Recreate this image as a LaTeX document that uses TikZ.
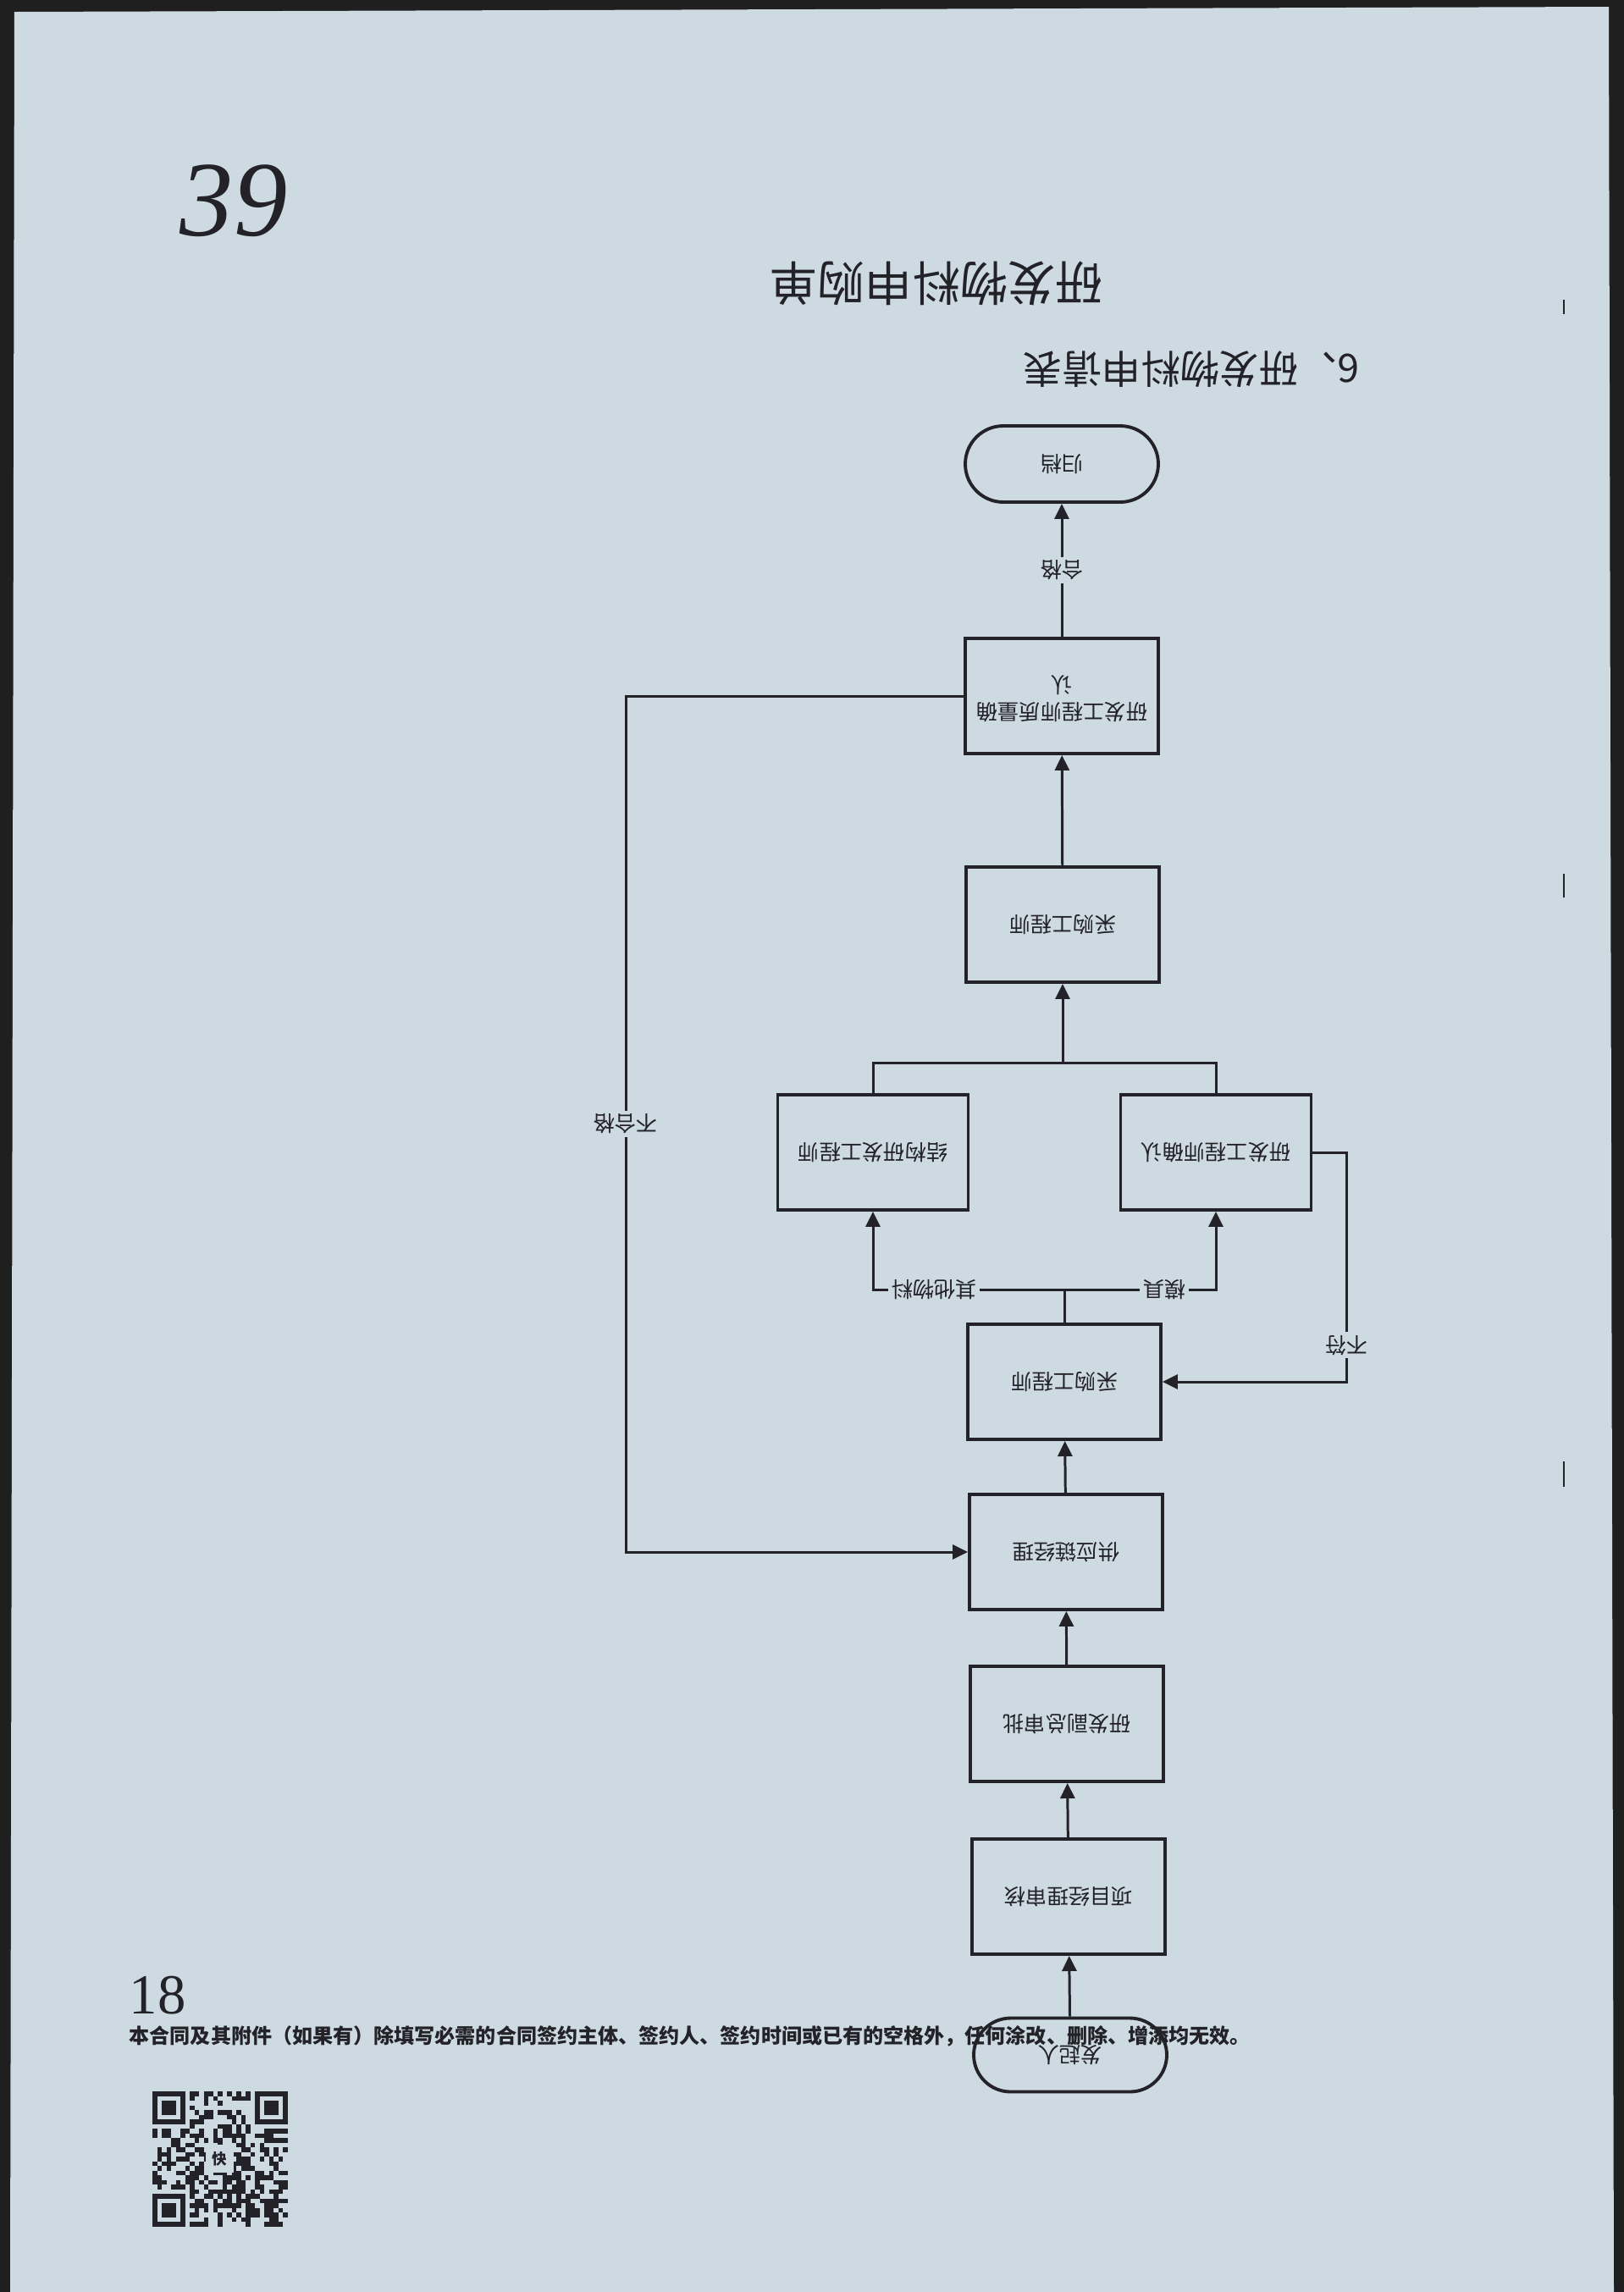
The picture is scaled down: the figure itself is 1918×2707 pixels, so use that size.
\documentclass[tikz,border=0pt]{standalone}
\usepackage{fontspec}
\usepackage{graphicx}
\setmainfont{Noto Sans CJK SC}
\newfontfamily\serifnum{Liberation Serif}
\usetikzlibrary{arrows.meta}
\definecolor{paper}{RGB}{206,218,225}
\definecolor{ink}{RGB}{34,34,40}
\newcommand{\flip}[1]{\rotatebox[origin=c]{180}{#1}}

\begin{document}
\begin{tikzpicture}[x=0.1mm,y=-0.1mm,
  box/.style={draw=ink,line width=1.1pt,minimum width=22.8mm,minimum height=13.6mm,inner sep=0pt,text=ink,font=\fontsize{7.2}{9}\selectfont},
  term/.style={box,minimum height=9mm,rounded corners=4.5mm},
  link/.style={draw=ink,line width=0.85pt},
  arr/.style={link,-{Triangle[length=1.8mm,width=1.7mm]}},
  lab/.style={fill=paper,inner sep=1pt,text=ink,font=\fontsize{7.2}{9}\selectfont}]
\useasboundingbox (0,0) rectangle (1918,2707);
\fill[black!88] (0,0) rectangle (1918,2707);
\fill[paper] (17,14) -- (1900,8) -- (1906,2707) -- (12,2707) -- cycle;
\draw[ink,line width=0.6pt] (1847,354) -- (1847,371);
\draw[ink,line width=0.6pt] (1847,1032) -- (1847,1060);
\draw[ink,line width=0.6pt] (1847,1726) -- (1847,1756);

\node[text=ink,font=\serifnum\itshape\fontsize{36}{36}\selectfont] (hand) at (276,237) {39};
\node[text=ink,font=\fontsize{16}{18}\selectfont] (title) at (1106,335) {\flip{研发物料申购单}};
\node[text=ink,font=\fontsize{13.2}{15}\selectfont] (sub) at (1407,436) {\flip{6、研发物料申请表}};

\node[term] (end) at (1254,548) {\flip{归档}};
\node[box] (qc) at (1254,822) {\flip{\begin{tabular}{@{}c@{}}研发工程师质量确\\认\end{tabular}}};
\node[box] (buy1) at (1255,1092) {\flip{采购工程师}};
\node[box,minimum width=22.5mm] (lbox) at (1031,1361) {\flip{结构研发工程师}};
\node[box,minimum width=22.5mm] (rbox) at (1436,1361) {\flip{研发工程师确认}};
\node[box] (buy2) at (1257,1632) {\flip{采购工程师}};
\node[box] (sc) at (1259,1833) {\flip{供应链经理}};
\node[box] (vp) at (1260,2036) {\flip{研发副总审批}};
\node[box] (pm) at (1262,2240) {\flip{项目经理审核}};
\node[term,minimum height=8.7mm,rounded corners=4.35mm] (start) at (1264,2427) {\flip{发起人}};

\coordinate (jt) at (1255,1255);
\coordinate (jb) at (1257,1523);
\coordinate (nf) at (1590,1632);
\coordinate (ng) at (739,1833);

\draw[arr] (start) -- (pm);
\draw[arr] (pm) -- (vp);
\draw[arr] (vp) -- (sc);
\draw[arr] (sc) -- (buy2);
\draw[link] (buy2) -- (jb);
\draw[arr] (jb) -| node[lab,pos=0.34] {\flip{其他物料}} (lbox.south);
\draw[arr] (jb) -| node[lab,pos=0.33] {\flip{模具}} (rbox.south);
\draw[link] (lbox.north) |- (jt) -| (rbox.north);
\draw[arr] (jt) -- (buy1.south);
\draw[arr] (rbox.east) -| node[lab,pos=0.92] {\flip{不符}} (nf) -- (buy2.east);
\draw[arr] (buy1) -- (qc);
\draw[arr] (qc) -- node[lab,midway] {\flip{合格}} (end);
\draw[arr] (qc.west) -| node[lab,pos=0.75] {\flip{不合格}} (ng) -- (sc.west);

\node[text=ink,font=\serifnum\fontsize{19}{19}\selectfont] (page) at (186,2357) {18};
\node[anchor=west,inner sep=0pt,text=ink,font=\fontsize{6.85}{8}\selectfont\bfseries] (note) at (152,2405) {本合同及其附件（如果有）除填写必需的合同签约主体、签约人、签约时间或已有的空格外，任何涂改、删除、增添均无效。};

\begin{scope}[shift={(180,2470)}]
\pgfmathsetseed{42}
\foreach \i in {0,...,28}
  \foreach \j in {0,...,28} {
    \pgfmathrandominteger{\q}{0}{1}
    \ifnum\q=1 \fill[ink] (\i*5.5,\j*5.5) rectangle ++(5.5,5.5); \fi
  }
\foreach \cx/\cy/\ex/\ey in {0/0/0/0,22/0/21/0,0/22/0/21} {
  \fill[paper] (\ex*5.5,\ey*5.5) rectangle ++(44,44);
  \fill[ink] (\cx*5.5,\cy*5.5) rectangle ++(38.5,38.5);
  \fill[paper] (\cx*5.5+5.5,\cy*5.5+5.5) rectangle ++(27.5,27.5);
  \fill[ink] (\cx*5.5+11,\cy*5.5+11) rectangle ++(16.5,16.5);
}
\fill[paper] (63,63) rectangle ++(33,33);
\node[text=ink,inner sep=0pt,font=\fontsize{5}{5}\selectfont\bfseries] (logo) at (79.5,79.5) {快};
\end{scope}
\end{tikzpicture}
\end{document}
